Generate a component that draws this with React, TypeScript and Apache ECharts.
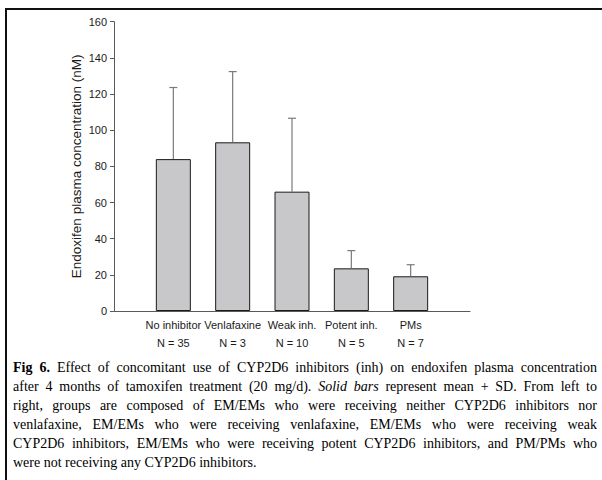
import React, { useEffect, useRef } from 'react';
import * as echarts from 'echarts';

// ---- data ----
const categories = ['No inhibitor', 'Venlafaxine', 'Weak inh.', 'Potent inh.', 'PMs'];
const groupSizes = ['N = 35', 'N = 3', 'N = 10', 'N = 5', 'N = 7'];
const means = [84.0, 93.3, 66.0, 23.6, 19.2];
const sds = [39.6, 39.1, 40.6, 9.8, 6.4];
const yMin = 0;
const yMax = 160;
const yInterval = 20;
const yTitle = 'Endoxifen plasma concentration (nM)';

type Seg = { t: string; b?: boolean; i?: boolean };
const captionLines: Seg[][] = [
  [{ t: 'Fig 6.', b: true }, { t: 'Effect of concomitant use of CYP2D6 inhibitors (inh) on endoxifen plasma concentration' }],
  [{ t: 'after 4 months of tamoxifen treatment (20 mg/d).' }, { t: 'Solid bars', i: true }, { t: 'represent mean + SD. From left to' }],
  [{ t: 'right, groups are composed of EM/EMs who were receiving neither CYP2D6 inhibitors nor' }],
  [{ t: 'venlafaxine, EM/EMs who were receiving venlafaxine, EM/EMs who were receiving weak' }],
  [{ t: 'CYP2D6 inhibitors, EM/EMs who were receiving potent CYP2D6 inhibitors, and PM/PMs who' }],
  [{ t: 'were not receiving any CYP2D6 inhibitors.' }],
];

const W = 602;
const H = 480;

export default function App() {
  const ref = useRef<HTMLDivElement>(null);

  useEffect(() => {
    if (!ref.current) return;
    const chart = echarts.init(ref.current, undefined, { renderer: 'svg', width: W, height: H });

    // caption layout (justified)
    const capFont = 'Liberation Serif';
    const capSize = 14;
    const capLeft = 13;
    const capRight = 597;
    const capTop = 367;
    const capLineH = 19;
    const canvas = document.createElement('canvas');
    const ctx = canvas.getContext('2d')!;
    const fontStr = (b?: boolean, it?: boolean) =>
      `${it ? 'italic ' : ''}${b ? 'bold ' : ''}${capSize}px "${capFont}"`;
    ctx.font = fontStr();
    const spaceW = ctx.measureText(' ').width;
    const captionEls: any[] = [];
    captionLines.forEach((line, li) => {
      const words: { w: string; b?: boolean; i?: boolean; width: number }[] = [];
      line.forEach((seg) => {
        seg.t.split(' ').forEach((w) => {
          if (!w) return;
          ctx.font = fontStr(seg.b, seg.i);
          words.push({ w, b: seg.b, i: seg.i, width: ctx.measureText(w).width });
        });
      });
      const total = words.reduce((s, w) => s + w.width, 0);
      const last = li === captionLines.length - 1;
      const gap = last || words.length < 2 ? spaceW : (capRight - capLeft - total) / (words.length - 1);
      let x = capLeft;
      const y = capTop + li * capLineH;
      words.forEach((w) => {
        captionEls.push({
          type: 'text',
          x,
          y,
          silent: true,
          style: {
            text: w.w,
            fontFamily: capFont,
            fontSize: capSize,
            fontWeight: w.b ? 'bold' : 'normal',
            fontStyle: w.i ? 'italic' : 'normal',
            fill: '#000',
            verticalAlign: 'middle',
            align: 'left',
          },
        });
        x += w.width + gap;
      });
    });

    const xData = ['', ...categories, ''];
    const barData = [null, ...means, null];
    const errData = means.map((m, i) => [i + 1, m, sds[i]]);

    chart.setOption({
      animation: false,
      backgroundColor: '#ffffff',
      grid: { left: 114, right: W - 470, top: 21.7, bottom: H - 311, containLabel: false },
      xAxis: {
        type: 'category',
        data: xData,
        boundaryGap: false,
        axisLine: { show: true, lineStyle: { color: '#5a5a5a', width: 1 } },
        axisTick: { show: false },
        splitLine: { show: false },
        axisLabel: {
          interval: 0,
          margin: 5,
          color: '#1a1a1a',
          fontFamily: 'Liberation Sans',
          fontSize: 11,
          lineHeight: 18,
          formatter: (_v: string, idx: number) =>
            idx >= 1 && idx <= categories.length ? `${categories[idx - 1]}\n${groupSizes[idx - 1]}` : '',
        },
      },
      yAxis: {
        type: 'value',
        min: yMin,
        max: yMax,
        interval: yInterval,
        name: yTitle,
        nameLocation: 'middle',
        nameGap: 31,
        nameMoveOverlap: false,
        nameTextStyle: { fontFamily: 'Liberation Sans', fontSize: 13.5, color: '#1a1a1a' },
        axisLine: { show: true, lineStyle: { color: '#5a5a5a', width: 1 } },
        axisTick: { show: true, length: 4, inside: false, lineStyle: { color: '#5a5a5a' } },
        splitLine: { show: false },
        axisLabel: { margin: 7, color: '#1a1a1a', fontFamily: 'Liberation Sans', fontSize: 11 },
      },
      series: [
        {
          type: 'bar',
          data: barData,
          barWidth: 35,
          itemStyle: { color: '#c8c8ca', borderColor: '#1a1a1a', borderWidth: 1 },
          z: 2,
        },
        {
          type: 'custom',
          data: errData,
          encode: { x: 0, y: 1 },
          z: 3,
          renderItem: (_params: any, api: any) => {
            const xi = api.value(0);
            const m = api.value(1);
            const sd = api.value(2);
            const base = api.coord([xi, m]);
            const top = api.coord([xi, m + sd]);
            const st = { stroke: '#7a7a7a', lineWidth: 1.2 };
            return {
              type: 'group',
              children: [
                { type: 'line', shape: { x1: base[0], y1: base[1], x2: top[0], y2: top[1] }, style: st },
                { type: 'line', shape: { x1: top[0] - 4, y1: top[1], x2: top[0] + 4, y2: top[1] }, style: st },
              ],
            };
          },
        },
      ],
      graphic: [
        { type: 'rect', shape: { x: 5, y: 8, width: W - 5, height: 2 }, style: { fill: '#111' }, silent: true },
        { type: 'rect', shape: { x: 5, y: 8, width: 2, height: H - 8 }, style: { fill: '#111' }, silent: true },
        ...captionEls,
      ],
    });

    return () => {
      chart.dispose();
    };
  }, []);

  return (
    <div
      ref={ref}
      style={{ position: 'absolute', left: 0, top: 0, width: W, height: H, background: '#fff' }}
    />
  );
}
